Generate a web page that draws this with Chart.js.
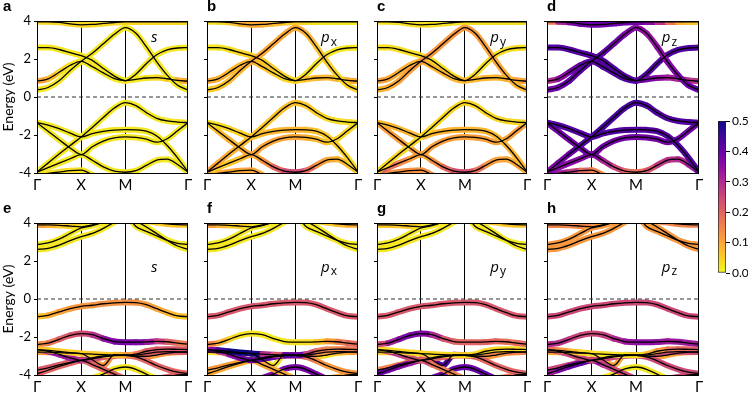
<!DOCTYPE html>
<html>
<head>
<meta charset="utf-8">
<script src="https://cdn.jsdelivr.net/npm/chart.js@4.4.0/dist/chart.umd.min.js"></script>
<style>
  body { margin: 0; background: #fff; width: 748px; height: 394px; overflow: hidden; position: relative; }
  canvas { position: absolute; }
</style>
</head>
<body>
<script>
// k-path sampling (Γ-X, X-M, M-Γ), in units of the Γ-X length
const kPoints = [0, 0.25, 0.5, 0.75, 1, 1.25, 1.5, 1.75, 2, 2.236, 2.471, 2.707, 2.943, 3.179, 3.414];
const kTicks = [0, 1, 2, 3.414];
const kLabels = ['Γ', 'X', 'M', 'Γ'];
const energyTicks = [-4, -2, 0, 2, 4];
const cbarTicks = [0, 0.1, 0.2, 0.3, 0.4, 0.5];

// top row (a-d) band energies, eV
const topA  = [0.37, 0.5, 0.85, 1.4, 1.88, 2.3, 2.8, 3.3, 3.65, 3.35, 2.65, 1.85, 1.15, 0.62, 0.37];
const topB  = [0.83, 0.95, 1.3, 1.67, 1.88, 1.6, 1.27, 0.97, 0.86, 0.93, 1.0, 1.02, 0.96, 0.87, 0.83];
const topC  = [2.6, 2.6, 2.5, 2.33, 2.18, 1.93, 1.5, 1.1, 0.86, 1.2, 1.75, 2.22, 2.48, 2.58, 2.6];
const topD  = [3.96, 3.96, 3.93, 3.85, 3.8, 3.82, 3.87, 3.92, 3.95, 3.95, 3.95, 3.95, 3.95, 3.95, 3.95];
const topV1 = [-3.95, -3.48, -3.0, -2.55, -2.1, -1.6, -1.08, -0.58, -0.3, -0.45, -0.82, -1.12, -1.26, -1.32, -1.35];
const topV2 = [-1.35, -1.48, -1.67, -1.9, -2.1, -1.93, -1.81, -1.74, -1.72, -1.73, -1.8, -2.05, -2.55, -3.2, -3.95];
const topV3 = [-1.35, -1.8, -2.25, -2.68, -3.03, -2.62, -2.32, -2.15, -2.1, -2.13, -2.22, -2.38, -2.2, -1.78, -1.35];
const topV4 = [-3.95, -3.72, -3.48, -3.25, -3.03, -3.33, -3.68, -3.9, -3.96, -3.88, -3.6, -3.32, -3.27, -3.55, -3.95];
const topV5 = [-4.1, -4.02, -3.95, -3.88, -3.85, -4.1, -4.4, -4.6, -4.7, -4.7, -4.6, -4.5, -4.4, -4.3, -4.2];
const topBands = [topA, topB, topC, topD, topV1, topV2, topV3, topV4, topV5];

// bottom row (e-h) band energies, eV
const botBU = [2.86, 2.95, 3.15, 3.45, 3.74, 3.86, 4.05, 4.25, 4.4, 3.82, 3.56, 3.32, 3.09, 2.93, 2.87];
const botBL = [2.61, 2.66, 2.83, 3.07, 3.28, 3.45, 3.72, 4.05, 4.4, 4.12, 3.79, 3.44, 3.09, 2.79, 2.61];
const botBT = [3.9, 3.9, 3.88, 3.84, 3.8, 3.9, 4.05, 4.2, 4.3, 4.2, 4.1, 4.02, 3.95, 3.91, 3.9];
const botVT = [-0.93, -0.86, -0.68, -0.51, -0.39, -0.33, -0.25, -0.2, -0.18, -0.19, -0.3, -0.51, -0.72, -0.89, -0.93];
const botV2 = [-2.39, -2.32, -2.12, -1.91, -1.82, -1.88, -2.08, -2.24, -2.27, -2.27, -2.26, -2.23, -2.25, -2.32, -2.38];
const botL1 = [-2.66, -2.7, -2.76, -2.82, -2.87, -2.9, -2.93, -2.95, -2.96, -2.9, -2.75, -2.66, -2.64, -2.65, -2.66];
const botL2 = [-2.66, -2.75, -2.92, -3.1, -3.23, -3.15, -3.05, -2.98, -2.96, -3.05, -3.25, -3.5, -3.7, -3.85, -3.93];
const botL3 = [-3.93, -3.75, -3.55, -3.38, -3.23, -3.45, -3.7, -3.95, -4.2, -4.3, -4.3, -4.2, -4.1, -4.0, -3.95];
const botL4 = [-4.5, -4.45, -4.4, -4.3, -4.25, -4.15, -3.95, -3.68, -3.58, -3.7, -3.95, -4.2, -4.35, -4.45, -4.5];
const botL5 = [-3.75, -3.62, -3.47, -3.33, -3.23, -3.1, -3.0, -2.97, -2.96, -2.95, -2.88, -2.8, -2.77, -2.78, -2.79];
const botL6 = [-2.79, -2.8, -2.82, -2.85, -2.87, -3.2, -3.5, -2.93, -2.96, -3.0, -3.02, -2.95, -2.85, -2.8, -2.79];
const botBands = [botBU, botBL, botBT, botVT, botV2, botL1, botL2, botL3, botL4, botL5, botL6];

// orbital weights (one entry per band: a number or one value per k-point)
const wTopS = [0.02, [0.12, 0.09, 0.05, 0.03, 0.02, 0.02, 0.02, 0.02, 0.02, 0.02, 0.02, 0.03, 0.05, 0.08, 0.1], 0.02, 0.04, 0.02, 0.02, 0.02, 0.02, 0.03];
const wTopPx = [
  [0.05, 0.06, 0.07, 0.08, 0.09, 0.1, 0.1, 0.1, 0.1, 0.09, 0.07, 0.05, 0.04, 0.04, 0.05],
  [0.1, 0.09, 0.08, 0.08, 0.08, 0.07, 0.05, 0.04, 0.04, 0.06, 0.08, 0.08, 0.08, 0.09, 0.1],
  [0.02, 0.02, 0.03, 0.04, 0.05, 0.05, 0.05, 0.04, 0.04, 0.03, 0.03, 0.02, 0.02, 0.02, 0.02],
  [0.02, 0.03, 0.05, 0.08, 0.1, 0.1, 0.08, 0.06, 0.05, 0.04, 0.03, 0.02, 0.02, 0.02, 0.02],
  [0.11, 0.1, 0.09, 0.08, 0.07, 0.06, 0.06, 0.07, 0.07, 0.06, 0.05, 0.04, 0.03, 0.03, 0.03],
  [0.03, 0.03, 0.04, 0.05, 0.05, 0.07, 0.08, 0.08, 0.08, 0.08, 0.07, 0.05, 0.05, 0.04, 0.04],
  [0.05, 0.07, 0.08, 0.09, 0.1, 0.1, 0.1, 0.1, 0.1, 0.09, 0.08, 0.07, 0.05, 0.04, 0.04],
  [0.04, 0.05, 0.06, 0.07, 0.08, 0.11, 0.17, 0.23, 0.26, 0.22, 0.14, 0.1, 0.09, 0.07, 0.06],
  0.1
];
const wTopPy = [
  [0.08, 0.09, 0.1, 0.11, 0.12, 0.12, 0.12, 0.12, 0.12, 0.12, 0.11, 0.1, 0.09, 0.08, 0.08],
  [0.12, 0.1, 0.09, 0.08, 0.08, 0.08, 0.08, 0.08, 0.08, 0.08, 0.08, 0.08, 0.09, 0.1, 0.11],
  0.03, 0.03, 0.04, 0.08, 0.11,
  [0.25, 0.21, 0.16, 0.12, 0.09, 0.11, 0.16, 0.22, 0.25, 0.21, 0.14, 0.11, 0.1, 0.1, 0.11],
  0.13
];
const wTopPz = [
  [0.38, 0.4, 0.41, 0.42, 0.43, 0.42, 0.4, 0.38, 0.36, 0.34, 0.34, 0.36, 0.38, 0.4, 0.4],
  [0.28, 0.33, 0.38, 0.4, 0.42, 0.43, 0.43, 0.43, 0.43, 0.4, 0.36, 0.33, 0.31, 0.29, 0.28],
  0.43,
  [0.08, 0.25, 0.38, 0.4, 0.4, 0.4, 0.4, 0.4, 0.4, 0.38, 0.33, 0.24, 0.1, 0.07, 0.06],
  [0.36, 0.38, 0.4, 0.42, 0.43, 0.44, 0.44, 0.44, 0.44, 0.44, 0.43, 0.43, 0.43, 0.43, 0.43],
  0.43, 0.39,
  [0.36, 0.36, 0.36, 0.36, 0.36, 0.34, 0.28, 0.21, 0.17, 0.19, 0.26, 0.29, 0.29, 0.31, 0.34],
  [0.36, 0.34, 0.3, 0.24, 0.15, 0.15, 0.15, 0.15, 0.15, 0.15, 0.15, 0.15, 0.15, 0.15, 0.15]
];
const wBotS = [
  0.02, 0.02,
  [0.12, 0.1, 0.06, 0.05, 0.05, 0.05, 0.05, 0.05, 0.05, 0.05, 0.05, 0.05, 0.06, 0.06, 0.06],
  [0.06, 0.08, 0.1, 0.12, 0.12, 0.13, 0.13, 0.13, 0.13, 0.13, 0.12, 0.11, 0.09, 0.07, 0.06],
  [0.12, 0.15, 0.2, 0.22, 0.23, 0.26, 0.33, 0.38, 0.38, 0.38, 0.36, 0.3, 0.22, 0.18, 0.15],
  [0.06, 0.06, 0.05, 0.05, 0.05, 0.05, 0.05, 0.06, 0.08, 0.15, 0.2, 0.22, 0.22, 0.22, 0.22],
  [0.36, 0.36, 0.35, 0.33, 0.3, 0.25, 0.22, 0.2, 0.2, 0.2, 0.2, 0.2, 0.2, 0.2, 0.2],
  0.2, 0.02, 0.22, 0.12
];
const wBotPx = [
  0.02, 0.02,
  [0.12, 0.1, 0.06, 0.05, 0.05, 0.05, 0.05, 0.05, 0.05, 0.05, 0.05, 0.05, 0.06, 0.08, 0.1],
  0.22,
  [0.18, 0.12, 0.05, 0.03, 0.02, 0.02, 0.02, 0.02, 0.03, 0.03, 0.04, 0.08, 0.15, 0.18, 0.2],
  [0.3, 0.42, 0.5, 0.5, 0.5, 0.48, 0.1, 0.35, 0.48, 0.3, 0.2, 0.15, 0.15, 0.15, 0.18],
  [0.15, 0.22, 0.32, 0.38, 0.4, 0.42, 0.42, 0.38, 0.3, 0.2, 0.15, 0.12, 0.12, 0.12, 0.12],
  0.1, 0.38, 0.12, 0.03
];
const wBotPy = [
  0.02, 0.02, 0.06, 0.22,
  [0.2, 0.28, 0.36, 0.38, 0.38, 0.35, 0.25, 0.2, 0.2, 0.2, 0.2, 0.2, 0.18, 0.18, 0.2],
  0.04,
  [0.3, 0.3, 0.28, 0.25, 0.22, 0.2, 0.2, 0.2, 0.2, 0.2, 0.2, 0.2, 0.2, 0.2, 0.2],
  [0.4, 0.4, 0.38, 0.35, 0.3, 0.2, 0.15, 0.15, 0.15, 0.15, 0.15, 0.15, 0.15, 0.15, 0.15],
  0.4, 0.15,
  [0.05, 0.05, 0.05, 0.05, 0.1, 0.4, 0.45, 0.42, 0.2, 0.15, 0.12, 0.12, 0.12, 0.12, 0.12]
];
const wBotPz = [
  0.12, 0.12, 0.15, 0.25,
  [0.3, 0.3, 0.28, 0.25, 0.25, 0.25, 0.28, 0.33, 0.35, 0.35, 0.35, 0.33, 0.33, 0.33, 0.33],
  [0.2, 0.15, 0.1, 0.05, 0.03, 0.03, 0.03, 0.03, 0.03, 0.05, 0.1, 0.15, 0.2, 0.2, 0.2],
  0.25,
  [0.3, 0.35, 0.4, 0.42, 0.4, 0.3, 0.25, 0.25, 0.25, 0.25, 0.25, 0.25, 0.25, 0.25, 0.25],
  0.02, 0.25, 0.1
];

const panels = [
  { id: 'a', orb: 's', sub: '',  row: 0, col: 0, bands: topBands, w: wTopS },
  { id: 'b', orb: 'p', sub: 'x', row: 0, col: 1, bands: topBands, w: wTopPx },
  { id: 'c', orb: 'p', sub: 'y', row: 0, col: 2, bands: topBands, w: wTopPy },
  { id: 'd', orb: 'p', sub: 'z', row: 0, col: 3, bands: topBands, w: wTopPz },
  { id: 'e', orb: 's', sub: '',  row: 1, col: 0, bands: botBands, w: wBotS },
  { id: 'f', orb: 'p', sub: 'x', row: 1, col: 1, bands: botBands, w: wBotPx },
  { id: 'g', orb: 'p', sub: 'y', row: 1, col: 2, bands: botBands, w: wBotPy },
  { id: 'h', orb: 'p', sub: 'z', row: 1, col: 3, bands: botBands, w: wBotPz }
];

// plasma colormap, reversed over 0..0.5
const plasma = ['#0d0887', '#41049d', '#6a00a8', '#8f0da4', '#b12a90', '#cc4778', '#e16462', '#f2844b', '#fca636', '#fcce25', '#f0f921'];
const wMax = 0.5;
function hex(h) { return [1, 3, 5].map(i => parseInt(h.substr(i, 2), 16)); }
function plasmaAt(t) {
  t = Math.min(Math.max(t, 0), 1) * (plasma.length - 1);
  const i = Math.min(Math.floor(t), plasma.length - 2), f = t - i;
  const a = hex(plasma[i]), b = hex(plasma[i + 1]);
  return 'rgb(' + a.map((v, j) => Math.round(v + (b[j] - v) * f)).join(',') + ')';
}
function weightColor(w) { return plasmaAt(1 - w / wMax); }
function wAt(w, i) { return Array.isArray(w) ? w[i] : w; }

// layout of the plot boxes
const colLeft = [37, 207, 377, 547], colRight = [188, 358, 527, 699];
const rowTop = [0, 194], rowH = [196, 200], padTop = [21, 29], xAxisH = [23, 19];
const font = { family: 'Lato, "Open Sans", sans-serif', size: 13 };

function makeCanvas(left, top, w, h) {
  const c = document.createElement('canvas');
  c.width = w; c.height = h;
  c.style.left = left + 'px'; c.style.top = top + 'px';
  c.style.width = w + 'px'; c.style.height = h + 'px';
  document.body.appendChild(c);
  return c;
}

panels.forEach(p => {
  const yW = p.col === 0 ? 37 : 12;
  const left = colLeft[p.col] - yW;
  const width = colRight[p.col] + 6 - left;
  const canvas = makeCanvas(left, rowTop[p.row], width, rowH[p.row]);

  const datasets = [];
  p.bands.forEach((e, b) => {
    const pts = kPoints.map((k, i) => ({ x: k, y: e[i] }));
    const ws = kPoints.map((k, i) => wAt(p.w[b], i));
    datasets.push({
      data: pts, borderWidth: 6, borderCapStyle: 'round', borderJoinStyle: 'round',
      borderColor: weightColor(ws[0]),
      segment: { borderColor: c => weightColor((ws[c.p0DataIndex] + ws[c.p1DataIndex]) / 2) },
      order: 2
    });
    datasets.push({ data: pts, borderWidth: 1.3, borderColor: '#000', order: 1 });
  });
  // Fermi level
  datasets.push({ data: [{ x: 0, y: 0 }, { x: 3.414, y: 0 }], borderWidth: 1.2, borderColor: '#333', borderDash: [4, 3], order: 0, cubicInterpolationMode: 'default', tension: 0 });

  const decor = {
    id: 'decor',
    afterDatasetsDraw(chart) {
      const { ctx, chartArea: a, scales } = chart;
      ctx.save();
      ctx.strokeStyle = '#000'; ctx.lineWidth = 1;
      ctx.strokeRect(Math.round(a.left) + 0.5, Math.round(a.top) + 0.5, Math.round(a.right - a.left) - 1, Math.round(a.bottom - a.top));
      // panel letter
      ctx.fillStyle = '#000';
      ctx.font = 'bold 15px "Liberation Sans", Arial, sans-serif';
      ctx.textBaseline = 'middle'; ctx.textAlign = 'left';
      ctx.fillText(p.id, p.col === 0 ? 3 : a.left, a.top - 14);
      // orbital label
      const lx = scales.x.getPixelForValue(2.58);
      const ly = scales.y.getPixelForValue(p.row === 0 ? 3.1 : 1.67);
      ctx.font = 'italic 15px "Open Sans", sans-serif';
      ctx.fillText(p.orb, lx, ly);
      if (p.sub) {
        const pw = ctx.measureText(p.orb).width;
        ctx.font = '12px "Open Sans", sans-serif';
        ctx.fillText(p.sub, lx + pw + 1, ly + 4);
      }
      ctx.restore();
    }
  };

  new Chart(canvas, {
    type: 'line',
    data: { datasets },
    options: {
      responsive: false, animation: false, events: [],
      layout: { padding: { top: padTop[p.row], right: 6, left: 0, bottom: 0 } },
      elements: { point: { radius: 0 }, line: { cubicInterpolationMode: 'monotone' } },
      datasets: { line: { clip: 0 } },
      plugins: { legend: { display: false }, tooltip: { enabled: false } },
      scales: {
        x: {
          type: 'linear', min: 0, max: 3.414,
          afterBuildTicks: s => { s.ticks = kTicks.map(v => ({ value: v })); },
          afterFit: s => { s.height = xAxisH[p.row]; s.paddingLeft = 0; s.paddingRight = 0; },
          ticks: { autoSkip: false, maxRotation: 0, padding: 3, color: '#000', font: { family: font.family, size: 15 }, callback: (v, i) => kLabels[i] },
          grid: { drawTicks: false, lineWidth: 1, color: c => (c.tick && (c.tick.value === 1 || c.tick.value === 2)) ? '#000' : 'rgba(0,0,0,0)' },
          border: { display: false }
        },
        y: {
          min: -4, max: 4,
          afterBuildTicks: s => { s.ticks = energyTicks.map(v => ({ value: v })); },
          afterFit: s => { s.width = yW; s.paddingTop = 0; s.paddingBottom = 0; },
          ticks: { display: p.col === 0, padding: 3, color: '#000', font },
          grid: { drawOnChartArea: false, tickLength: 3, color: '#000' },
          border: { display: false },
          title: { display: p.col === 0, text: 'Energy (eV)', color: '#000', font: { family: font.family, size: 14 }, padding: 0 }
        }
      }
    },
    plugins: [decor]
  });
});

// colour bar
const cbCanvas = makeCanvas(710, 110, 38, 175);
new Chart(cbCanvas, {
  type: 'bar',
  data: {
    labels: [''],
    datasets: [{
      data: [wMax], barPercentage: 1, categoryPercentage: 1,
      borderWidth: 1, borderColor: '#222', borderSkipped: false,
      backgroundColor: c => {
        const a = c.chart.chartArea;
        if (!a) return '#ccc';
        const g = c.chart.ctx.createLinearGradient(0, a.bottom, 0, a.top);
        plasma.forEach((col, i) => g.addColorStop(i / (plasma.length - 1), plasma[plasma.length - 1 - i]));
        return g;
      }
    }]
  },
  options: {
    responsive: false, animation: false, events: [],
    layout: { padding: { left: 8, top: 11, bottom: 12, right: 0 } },
    plugins: { legend: { display: false }, tooltip: { enabled: false } },
    scales: {
      x: { display: false },
      y: {
        position: 'right', min: 0, max: wMax,
        afterBuildTicks: s => { s.ticks = cbarTicks.map(v => ({ value: v })); },
        afterFit: s => { s.width = 22; s.paddingTop = 0; s.paddingBottom = 0; },
        ticks: { padding: 2, color: '#000', font: { family: font.family, size: 12 }, callback: v => v.toFixed(1) },
        grid: { drawOnChartArea: false, tickLength: 4, color: '#000' },
        border: { display: false }
      }
    }
  }
});
</script>
</body>
</html>
